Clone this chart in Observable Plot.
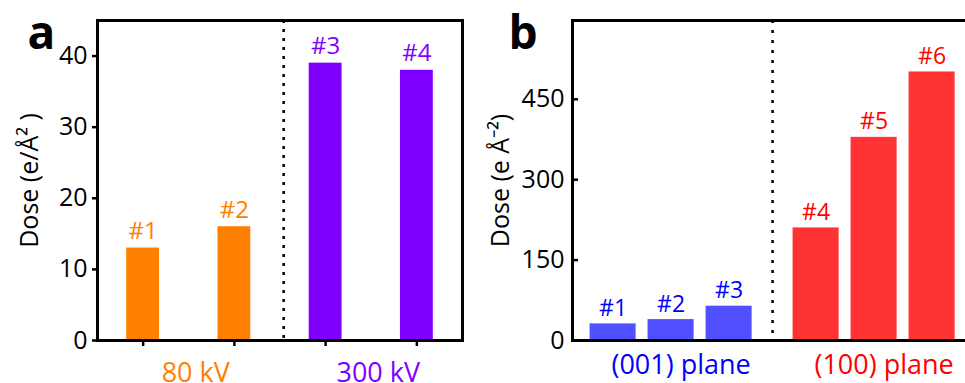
<!DOCTYPE html>
<html><head><meta charset="utf-8">
<script src="https://cdn.jsdelivr.net/npm/d3@7"></script>
<script src="https://cdn.jsdelivr.net/npm/@observablehq/plot@0.6"></script>
<style>
html,body{margin:0;padding:0;background:#fff;overflow:hidden;}
#root{position:relative;width:965px;height:383px;overflow:hidden;font-family:"Open Sans",sans-serif;}
.panel{position:absolute;top:0;height:383px;}
#root svg{max-width:none !important;height:383px !important;display:block;}
</style></head><body><div id="root"><div id="pa" class="panel" style="left:0;width:480px"></div><div id="pb" class="panel" style="left:480px;width:500px"></div></div>
<script>
// Panel a data
const aLabels = ["#1", "#2", "#3", "#4"];
const aDose = [13, 16, 39, 38];
const aGroup = ["80 kV", "80 kV", "300 kV", "300 kV"];
const aGroups = ["80 kV", "300 kV"];
const aBarColors = ["#FF8000", "#8000FF"];
const aTextColors = ["#FF8000", "#8000FF"];
const aYTicks = [0, 10, 20, 30, 40];
const aYTitle = "Dose (e/Å² )";

// Panel b data
const bLabels = ["#1", "#2", "#3", "#4", "#5", "#6"];
const bDose = [31, 39, 64, 210, 379, 501];
const bGroup = ["(001) plane", "(001) plane", "(001) plane", "(100) plane", "(100) plane", "(100) plane"];
const bGroups = ["(001) plane", "(100) plane"];
const bBarColors = ["#5050FF", "#FF3333"];
const bTextColors = ["#0000FF", "#FF0000"];
const bYTicks = [0, 150, 300, 450];
const bYTitle = "Dose (e Å⁻²)";

function buildRows(labels, dose, group, groups, gap) {
  return labels.map((l, i) => {
    const g = groups.indexOf(group[i]);
    return {label: l, dose: dose[i], group: group[i], gi: g, pos: i + g * gap};
  });
}
function groupRows(rows, groups) {
  return groups.map((g, gi) => ({group: g, gi, pos: d3.mean(rows.filter(r => r.group === g), r => r.pos)}));
}
const baseStyle = {fontFamily: "Open Sans, sans-serif", color: "black", background: "transparent", overflow: "visible"};

// ---------- Panel a ----------
const aRows = buildRows(aLabels, aDose, aGroup, aGroups, 0);
const aG = groupRows(aRows, aGroups);
const aHalf = 0.18;
const aDividerAt = 1.54;
const plotA = Plot.plot({
  width: 480, height: 383,
  marginLeft: 97, marginRight: 18, marginTop: 20, marginBottom: 43,
  style: baseStyle,
  x: {domain: [-0.5, 3.5], axis: null},
  y: {domain: [0, 45], axis: null},
  color: {type: "identity"},
  marks: [
    Plot.rectY(aRows, {x1: d => d.pos - aHalf, x2: d => d.pos + aHalf, y1: 0, y2: "dose", fill: d => aBarColors[d.gi]}),
    Plot.ruleX([aDividerAt], {stroke: "black", strokeWidth: 2.5, strokeDasharray: "3,6"}),
    Plot.frame({stroke: "black", strokeWidth: 3}),
    Plot.axisY(aYTicks, {anchor: "left", tickSize: 5, tickPadding: 5, strokeWidth: 2.5, fontSize: 25, label: null}),
    Plot.axisX(aRows.map(d => d.pos), {anchor: "bottom", tickSize: 6, strokeWidth: 2.5, tickFormat: () => "", label: null}),
    Plot.text(aRows, {x: "pos", y: "dose", text: "label", fill: d => aTextColors[d.gi], lineAnchor: "bottom", dy: -9, fontSize: 24}),
    Plot.text(aG, {x: "pos", text: "group", fill: d => aTextColors[d.gi], frameAnchor: "bottom", lineAnchor: "bottom", dy: 41, dx: 7, fontSize: 27}),
    Plot.text([aYTitle], {frameAnchor: "left", rotate: -90, dx: -68, fontSize: 25, textAnchor: "middle", lineAnchor: "middle", fill: "black"}),
    Plot.text(["a"], {frameAnchor: "top-left", textAnchor: "start", lineAnchor: "bottom", dx: -70, dy: 28, fontSize: 46, fontWeight: "bold", fill: "black"})
  ]
});
document.getElementById("pa").appendChild(plotA);

// ---------- Panel b ----------
const bRows = buildRows(bLabels, bDose, bGroup, bGroups, 0.5);
const bG = groupRows(bRows, bGroups);
const bHalf = 0.397;
const bDividerAt = (bRows[2].pos + bRows[3].pos) / 2;
const plotB = Plot.plot({
  width: 500, height: 383,
  marginLeft: 92, marginRight: 2, marginTop: 20, marginBottom: 43,
  style: baseStyle,
  x: {domain: [-0.7, 6.3], axis: null},
  y: {domain: [0, 597], axis: null},
  color: {type: "identity"},
  marks: [
    Plot.rectY(bRows, {x1: d => d.pos - bHalf, x2: d => d.pos + bHalf, y1: 0, y2: "dose", fill: d => bBarColors[d.gi]}),
    Plot.ruleX([bDividerAt], {stroke: "black", strokeWidth: 2.5, strokeDasharray: "3,7"}),
    Plot.frame({stroke: "black", strokeWidth: 3}),
    Plot.axisY(bYTicks, {anchor: "left", tickSize: -6, tickPadding: 14, strokeWidth: 2.5, fontSize: 25, label: null}),
    Plot.text(bRows, {x: "pos", y: "dose", text: "label", fill: d => bTextColors[d.gi], lineAnchor: "bottom", dy: -8, fontSize: 23}),
    Plot.text(bG, {x: "pos", text: "group", fill: d => bTextColors[d.gi], frameAnchor: "bottom", lineAnchor: "bottom", dy: 33, dx: 10, fontSize: 27}),
    Plot.text([bYTitle], {frameAnchor: "left", rotate: -90, dx: -72, fontSize: 25, textAnchor: "middle", lineAnchor: "middle", fill: "black"}),
    Plot.text(["b"], {frameAnchor: "top-left", textAnchor: "start", lineAnchor: "bottom", dx: -64, dy: 28, fontSize: 46, fontWeight: "bold", fill: "black"})
  ]
});
document.getElementById("pb").appendChild(plotB);
</script>
</body></html>
